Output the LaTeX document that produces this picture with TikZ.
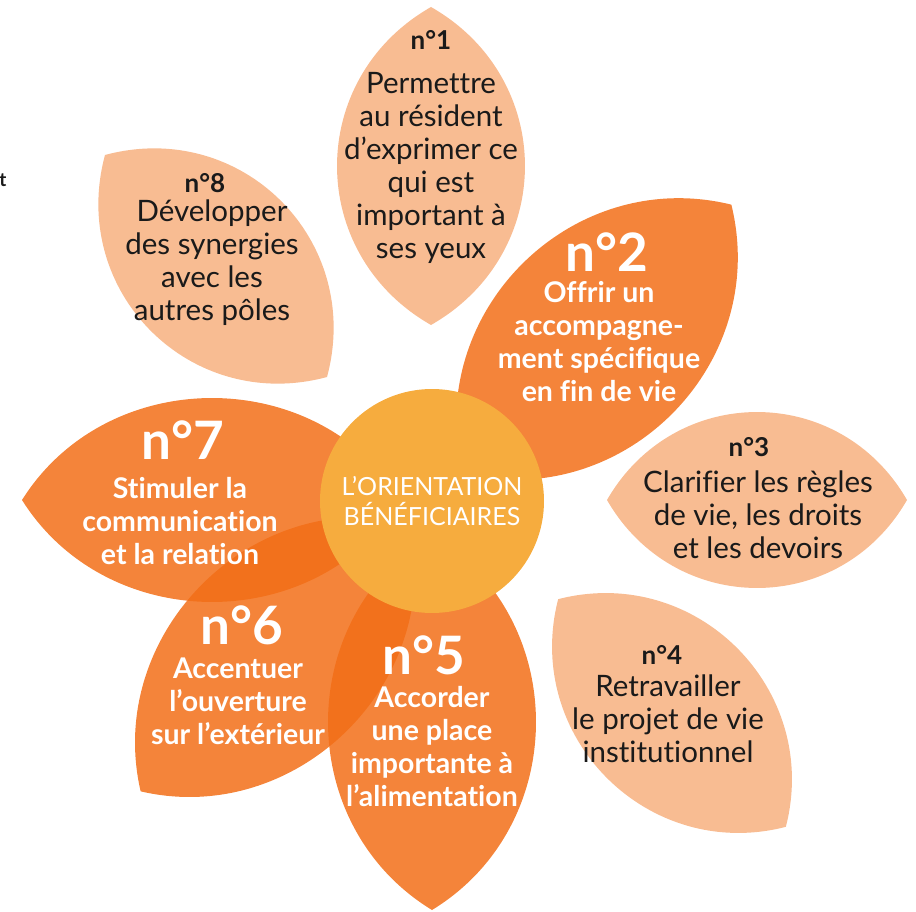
\documentclass[tikz,border=0pt]{standalone}
\usepackage{fontspec}
\setmainfont{Lato}[Ligatures=NoCommon]
\usetikzlibrary{positioning}
\definecolor{lightpetal}{RGB}{248,188,146}
\definecolor{darkpetal}{RGB}{242,110,23}
\definecolor{heart}{RGB}{246,172,62}
\definecolor{ink}{RGB}{26,26,26}
\begin{document}
\begin{tikzpicture}[x=1pt, y=-1pt, line join=round,
  numlight/.style={font={\fontsize{26pt}{30pt}\selectfont\bfseries}, text=ink},
  numdark/.style={font={\fontsize{53pt}{56pt}\selectfont\bfseries}, text=white},
  txtlight/.style={align=center, inner sep=0pt, font={\fontsize{29.5pt}{33pt}\selectfont}, text=ink},
  txtdark/.style={align=center, inner sep=0pt, font={\fontsize{28.5pt}{33pt}\selectfont\bfseries}, text=white}]
  \useasboundingbox (0,0) rectangle (916,912);
  % petals: centre x / centre y / angle / half length / half width / colour / opacity
  \foreach \cx/\cy/\ang/\len/\wid/\col/\op in {431/166/90/159/94/lightpetal/1,
      597/339/45/190/106/darkpetal/0.85, 757/500/0/150/88/lightpetal/1,
      672/713/-45/161/92/lightpetal/1, 432/722/90/188/104/darkpetal/0.85,
      275/657/45/190/103/darkpetal/0.85, 212/500/0/190/102/darkpetal/0.85,
      216/266/-45/157/92/lightpetal/1}
  {
    \fill[\col, fill opacity=\op, shift={(\cx,\cy)}, rotate=\ang]
      (-\len,0) .. controls ({-0.55*\len},{1.333*\wid}) and ({0.55*\len},{1.333*\wid}) .. (\len,0)
      .. controls ({0.55*\len},{-1.333*\wid}) and ({-0.55*\len},{-1.333*\wid}) .. (-\len,0) -- cycle;
  }
  % heart of the flower
  \node[circle, fill=heart, minimum size=224pt, inner sep=0pt, align=center, text=white,
    font={\fontsize{25pt}{30pt}\selectfont}] (heart) at (432,501) {L’ORIENTATION\\BÉNÉFICIAIRES};
  % numbers
  \node[numlight] (n1) at (431,40) {n°1};
  \node[numdark] (n2) at (607,252) {n°2};
  \node[numlight] (n3) at (749,447) {n°3};
  \node[numlight] (n4) at (662,655) {n°4};
  \node[numdark] (n5) at (424,655) {n°5};
  \node[numdark] (n6) at (242,625) {n°6};
  \node[numdark] (n7) at (183,440) {n°7};
  \node[numlight] (n8) at (205,183) {n°8};
  % texts
  \node[txtlight] (t1) at (431,168) {Permettre\\au résident\\d’exprimer ce\\qui est\\important à\\ses yeux};
  \node[txtdark] (t2) at (599,342) {Offrir un\\accompagne-\\ment spécifique\\en fin de vie};
  \node[txtlight] (t3) at (758,515) {Clarifier les règles\\de vie, les droits\\et les devoirs};
  \node[txtlight] (t4) at (668,719) {Retravailler\\le projet de vie\\institutionnel};
  \node[txtdark] (t5) at (432,747) {Accorder\\une place\\importante à\\l’alimentation};
  \node[txtdark] (t6) at (238,701) {Accentuer\\l’ouverture\\sur l’extérieur};
  \node[txtdark] (t7) at (180,521) {Stimuler la\\communication\\et la relation};
  \node[txtlight] (t8) at (212,263) {Développer\\des synergies\\avec les\\autres pôles};
  \node[font={\fontsize{19pt}{22pt}\selectfont\bfseries}, text=ink] (stray) at (3,180) {t};
\end{tikzpicture}
\end{document}
